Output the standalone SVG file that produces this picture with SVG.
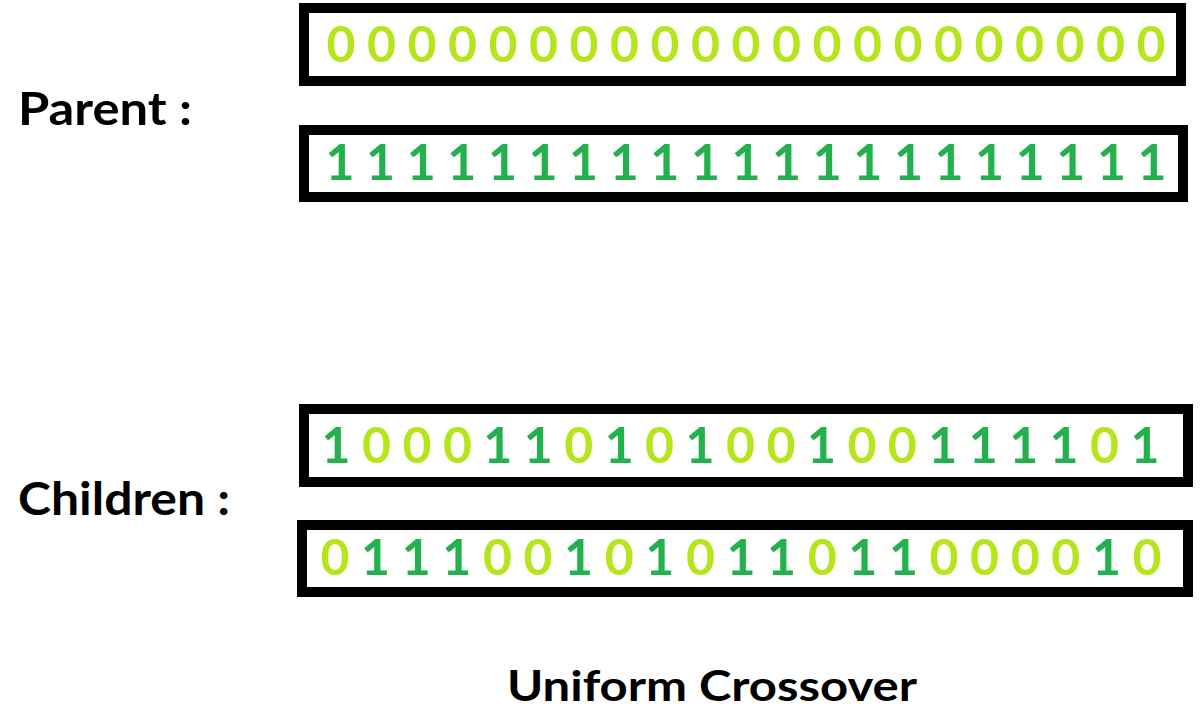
<svg xmlns="http://www.w3.org/2000/svg" width="1202" height="714" viewBox="0 0 1202 714">
<style>
.box{fill:#fff;stroke:#000;stroke-width:10}
.bits{font-family:Lato,"Open Sans",sans-serif;font-weight:bold;font-size:50px;text-anchor:middle}
.z{fill:#b5e61d}
.o{fill:#22b14c}
.lbl{font-family:Lato,"Open Sans",sans-serif;font-weight:bold;fill:#000}
</style>
<rect width="1202" height="714" fill="#fff"/>
<g id="label-parent"><text class="lbl" x="18" y="125" font-size="46" textLength="174" lengthAdjust="spacingAndGlyphs">Parent :</text></g>
<g id="label-children"><text class="lbl" x="18" y="515" font-size="46" textLength="212" lengthAdjust="spacingAndGlyphs">Children :</text></g>
<g id="title"><text class="lbl" x="507" y="701" font-size="42" textLength="410" lengthAdjust="spacingAndGlyphs">Uniform Crossover</text></g>
<g id="parent1">
<rect class="box" x="304" y="8" width="877" height="73"/>
<text class="bits z" y="62" x="341 381.5 422 462.5 503 543.5 584 624.5 665 705.5 746 786.5 827 867.5 908 948.5 989 1029.5 1070 1110.5 1151">000000000000000000000</text>
</g>
<g id="parent2">
<rect class="box" x="304" y="130" width="879" height="67"/>
<text class="bits o" y="180" x="340 380.6 421.2 461.8 502.4 543 583.6 624.2 664.8 705.4 746 786.6 827.2 867.8 908.4 949 989.6 1030.2 1070.8 1111.4 1152">111111111111111111111</text>
</g>
<g id="child1">
<rect class="box" x="304" y="409" width="884" height="73"/>
<text class="bits" y="463"><tspan class="o" x="336">1</tspan><tspan class="z" x="376.5">0</tspan><tspan class="z" x="416.9">0</tspan><tspan class="z" x="457.4">0</tspan><tspan class="o" x="497.8">1</tspan><tspan class="o" x="538.3">1</tspan><tspan class="z" x="578.7">0</tspan><tspan class="o" x="619.2">1</tspan><tspan class="z" x="659.6">0</tspan><tspan class="o" x="700.1">1</tspan><tspan class="z" x="740.5">0</tspan><tspan class="z" x="781">0</tspan><tspan class="o" x="821.4">1</tspan><tspan class="z" x="861.9">0</tspan><tspan class="z" x="902.3">0</tspan><tspan class="o" x="942.8">1</tspan><tspan class="o" x="983.2">1</tspan><tspan class="o" x="1023.7">1</tspan><tspan class="o" x="1064.1">1</tspan><tspan class="z" x="1104.6">0</tspan><tspan class="o" x="1145">1</tspan></text>
</g>
<g id="child2">
<rect class="box" x="302" y="525" width="886" height="67"/>
<text class="bits" y="575"><tspan class="z" x="335">0</tspan><tspan class="o" x="375.6">1</tspan><tspan class="o" x="416.2">1</tspan><tspan class="o" x="456.8">1</tspan><tspan class="z" x="497.4">0</tspan><tspan class="z" x="538">0</tspan><tspan class="o" x="578.6">1</tspan><tspan class="z" x="619.2">0</tspan><tspan class="o" x="659.8">1</tspan><tspan class="z" x="700.4">0</tspan><tspan class="o" x="741">1</tspan><tspan class="o" x="781.6">1</tspan><tspan class="z" x="822.2">0</tspan><tspan class="o" x="862.8">1</tspan><tspan class="o" x="903.4">1</tspan><tspan class="z" x="944">0</tspan><tspan class="z" x="984.6">0</tspan><tspan class="z" x="1025.2">0</tspan><tspan class="z" x="1065.8">0</tspan><tspan class="o" x="1106.4">1</tspan><tspan class="z" x="1147">0</tspan></text>
</g>
<g id="connectors"/>
</svg>
